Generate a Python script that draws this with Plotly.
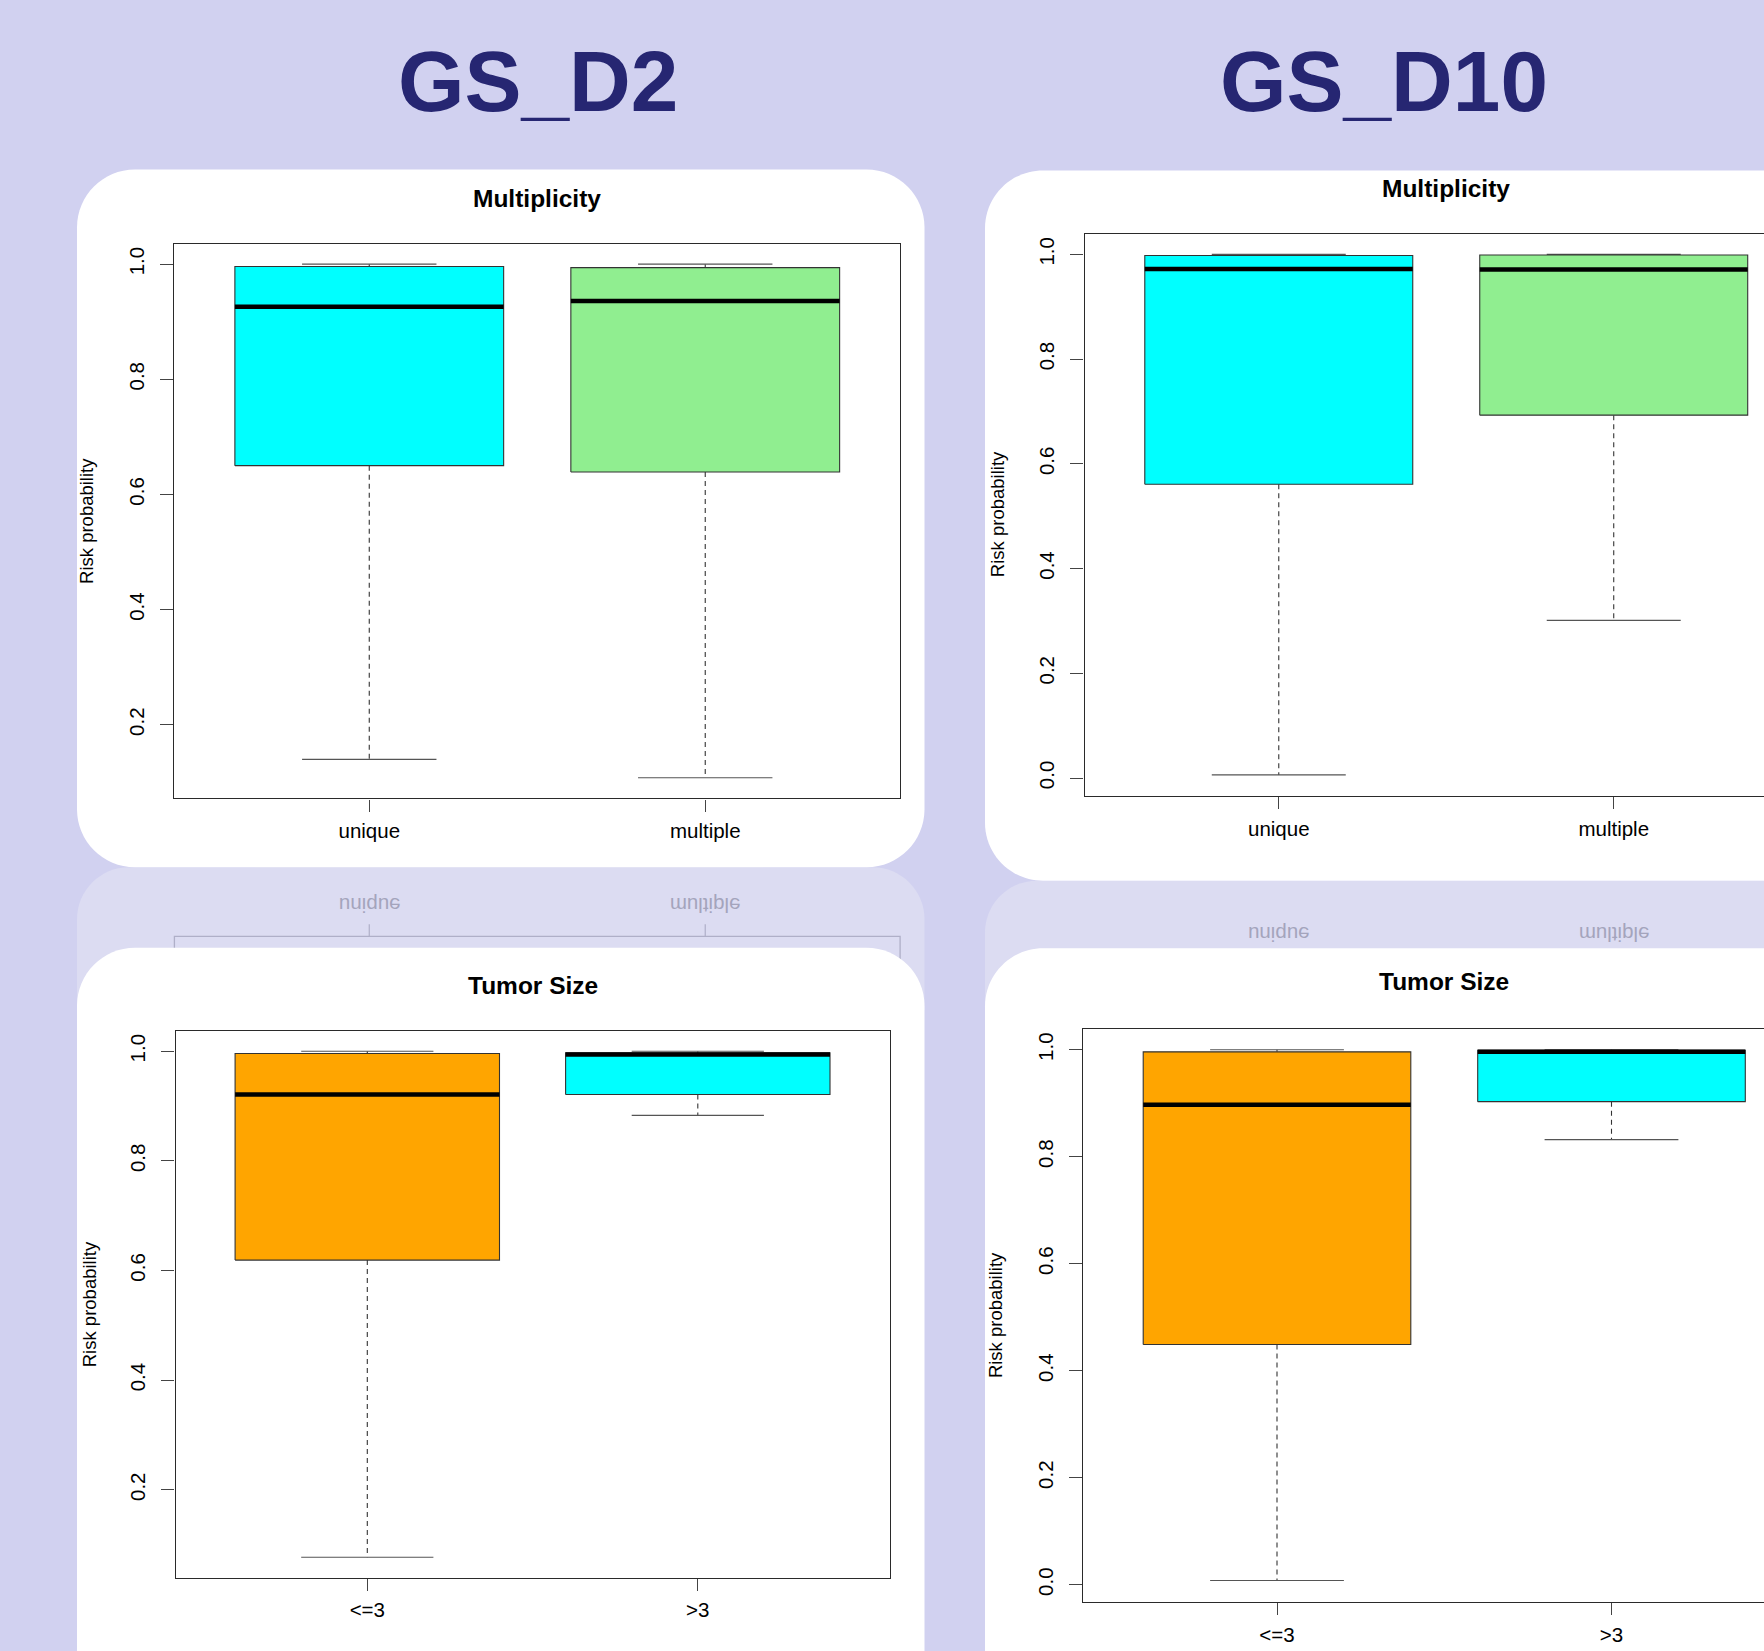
import plotly.graph_objects as go

W, H = 1764, 1651

# ---------------------------------------------------------------- data
multiplicity_groups = ["unique", "multiple"]
tumor_size_groups = ["<=3", ">3"]

multiplicity_colors = ["#00FFFF", "#90EE90"]
tumor_size_colors = ["#FFA500", "#00FFFF"]

# GS_D2 - Multiplicity (lower whisker, Q1, median, Q3, upper whisker)
d2_mult_low = [0.140, 0.108]
d2_mult_q1 = [0.650, 0.639]
d2_mult_med = [0.926, 0.936]
d2_mult_q3 = [0.996, 0.994]
d2_mult_high = [1.000, 1.000]

# GS_D10 - Multiplicity
d10_mult_low = [0.006, 0.301]
d10_mult_q1 = [0.561, 0.693]
d10_mult_med = [0.972, 0.971]
d10_mult_q3 = [0.998, 0.999]
d10_mult_high = [1.000, 1.000]

# GS_D2 - Tumor Size
d2_size_low = [0.077, 0.883]
d2_size_q1 = [0.619, 0.921]
d2_size_med = [0.921, 0.994]
d2_size_q3 = [0.996, 0.997]
d2_size_high = [1.000, 1.000]

# GS_D10 - Tumor Size
d10_size_low = [0.008, 0.832]
d10_size_q1 = [0.449, 0.903]
d10_size_med = [0.897, 0.996]
d10_size_q3 = [0.996, 0.999]
d10_size_high = [1.000, 1.000]

y_tick_values = [0.0, 0.2, 0.4, 0.6, 0.8, 1.0]
y_tick_labels = ["0.0", "0.2", "0.4", "0.6", "0.8", "1.0"]

# ---------------------------------------------------------------- style
FONT = "Liberation Sans, Arial, Helvetica, sans-serif"
BG = "#D1D1F0"
CARD = "#FFFFFF"
REFLECT = "#DCDCF2"
NAVY = "#262672"
FRAME = "#2a2a2a"


def fx(px):
    return px / W


def fy(py):
    return 1 - py / H


def rounded_path(x0, y0, x1, y1, r, top=True, bottom=True):
    """SVG path (paper units) for a rectangle given in pixels, rounded corners."""
    k = 0.5523 * r
    pts = []
    rt = r if top else 0
    kt = k if top else 0
    rb = r if bottom else 0
    kb = k if bottom else 0
    p = lambda x, y: f"{fx(x):.6f},{fy(y):.6f}"
    pts.append(f"M {p(x0 + rt, y0)}")
    pts.append(f"L {p(x1 - rt, y0)}")
    if top:
        pts.append(f"C {p(x1 - rt + kt, y0)} {p(x1, y0 + rt - kt)} {p(x1, y0 + rt)}")
    pts.append(f"L {p(x1, y1 - rb)}")
    if bottom:
        pts.append(f"C {p(x1, y1 - rb + kb)} {p(x1 - rb + kb, y1)} {p(x1 - rb, y1)}")
    pts.append(f"L {p(x0 + rb, y1)}")
    if bottom:
        pts.append(f"C {p(x0 + rb - kb, y1)} {p(x0, y1 - rb + kb)} {p(x0, y1 - rb)}")
    pts.append(f"L {p(x0, y0 + rt)}")
    if top:
        pts.append(f"C {p(x0, y0 + rt - kt)} {p(x0 + rt - kt, y0)} {p(x0 + rt, y0)}")
    pts.append("Z")
    return " ".join(pts)


# panel layout: plot frame in pixels (left, top, right, bottom), card, title
panels = [
    dict(groups=multiplicity_groups, colors=multiplicity_colors, title="Multiplicity",
         low=d2_mult_low, q1=d2_mult_q1, med=d2_mult_med, q3=d2_mult_q3, high=d2_mult_high,
         frame=(174.4, 243.6, 900.1, 798.3), title_xy=(537, 198.5), ylab_x=87),
    dict(groups=multiplicity_groups, colors=multiplicity_colors, title="Multiplicity",
         low=d10_mult_low, q1=d10_mult_q1, med=d10_mult_med, q3=d10_mult_q3, high=d10_mult_high,
         frame=(1084.5, 233.6, 1808.0, 795.7), title_xy=(1446, 189), ylab_x=997.5),
    dict(groups=tumor_size_groups, colors=tumor_size_colors, title="Tumor Size",
         low=d2_size_low, q1=d2_size_q1, med=d2_size_med, q3=d2_size_q3, high=d2_size_high,
         frame=(175.6, 1031.0, 889.5, 1577.5), title_xy=(533, 985.6), ylab_x=89),
    dict(groups=tumor_size_groups, colors=tumor_size_colors, title="Tumor Size",
         low=d10_size_low, q1=d10_size_q1, med=d10_size_med, q3=d10_size_q3, high=d10_size_high,
         frame=(1083.0, 1028.5, 1805.5, 1601.7), title_xy=(1444, 981.6), ylab_x=995),
]

cards = [
    (77, 169.5, 924.5, 867.3),
    (985, 170.4, 1900, 880.7),
    (77, 947.7, 924.5, 1760),
    (985, 948.3, 1900, 1760),
]

fig = go.Figure()
shapes = []
annotations = []

# faded reflections of the upper cards
shapes.append(dict(type="path", xref="paper", yref="paper", layer="below",
                   path=rounded_path(77, 867.3, 924.5, 1010, 52, top=True, bottom=False),
                   fillcolor=REFLECT, line=dict(width=0)))
shapes.append(dict(type="path", xref="paper", yref="paper", layer="below",
                   path=rounded_path(985, 880.7, 1900, 1010, 52, top=True, bottom=False),
                   fillcolor=REFLECT, line=dict(width=0)))

X_LO, X_HI = 0.42, 2.58  # category axis limits (two boxes at 1 and 2)

for i, pn in enumerate(panels):
    n = i + 1
    xa = "x" if n == 1 else f"x{n}"
    ya = "y" if n == 1 else f"y{n}"
    left, top, right, bottom = pn["frame"]

    # clip the frame to the page; the axis range shrinks with it
    vis_right = min(right, W)
    x_hi = X_LO + (X_HI - X_LO) * (vis_right - left) / (right - left)

    lo = min(pn["low"])
    hi = max(pn["high"])
    pad = 0.04 * (hi - lo)

    axis_font = dict(family=FONT, size=20.5, color="black")
    fig.update_layout(**{
        ("xaxis" if n == 1 else f"xaxis{n}"): dict(
            domain=[fx(left), fx(vis_right)], range=[X_LO, x_hi], anchor=ya,
            tickmode="array", tickvals=[1, 2], ticktext=pn["groups"],
            ticks="outside", ticklen=12, tickwidth=1.1, tickcolor="#444",
            showline=True, linecolor=FRAME, linewidth=1.4, mirror=True,
            showgrid=False, zeroline=False, tickfont=axis_font,
            ticklabelstandoff=2, fixedrange=True),
        ("yaxis" if n == 1 else f"yaxis{n}"): dict(
            domain=[fy(bottom), fy(top)], range=[lo - pad, hi + pad], anchor=xa,
            tickmode="array", tickvals=y_tick_values, ticktext=y_tick_labels,
            tickangle=-90, ticks="outside", ticklen=13, tickwidth=1.1, tickcolor="#444",
            showline=True, linecolor=FRAME, linewidth=1.4, mirror=(vis_right == right),
            showgrid=False, zeroline=False, tickfont=axis_font,
            ticklabelstandoff=8, fixedrange=True),
    })

    half, cap = 0.4, 0.2
    for j in range(2):
        c = j + 1
        l_, a, m, b, h_ = pn["low"][j], pn["q1"][j], pn["med"][j], pn["q3"][j], pn["high"][j]
        # dashed whiskers
        fig.add_trace(go.Scatter(x=[c, c, None, c, c], y=[b, h_, None, a, l_], mode="lines",
                                 line=dict(color="#333", width=1.1, dash="5px,4px"),
                                 xaxis=xa, yaxis=ya, hoverinfo="skip", showlegend=False))
        # whisker caps
        fig.add_trace(go.Scatter(x=[c - cap, c + cap, None, c - cap, c + cap],
                                 y=[h_, h_, None, l_, l_], mode="lines",
                                 line=dict(color="#555", width=1.1),
                                 xaxis=xa, yaxis=ya, hoverinfo="skip", showlegend=False))
        # box body
        fig.add_trace(go.Scatter(x=[c - half, c + half, c + half, c - half, c - half],
                                 y=[a, a, b, b, a], mode="lines", fill="toself",
                                 fillcolor=pn["colors"][j], line=dict(color="#333", width=1.1),
                                 xaxis=xa, yaxis=ya, hoverinfo="skip", showlegend=False))
        # median
        fig.add_trace(go.Scatter(x=[c - half, c + half], y=[m, m], mode="lines",
                                 line=dict(color="black", width=4.5),
                                 xaxis=xa, yaxis=ya, hoverinfo="skip", showlegend=False))

    # panel title and y-axis label
    tx, ty = pn["title_xy"]
    annotations.append(dict(text=f"<b>{pn['title']}</b>", x=fx(tx), y=fy(ty),
                            xref="paper", yref="paper", xanchor="center", yanchor="middle",
                            showarrow=False, font=dict(family=FONT, size=24.5, color="black")))
    annotations.append(dict(text="Risk probability", x=fx(pn["ylab_x"]), y=fy((top + bottom) / 2),
                            xref="paper", yref="paper", xanchor="center", yanchor="middle",
                            textangle=-90, showarrow=False,
                            font=dict(family=FONT, size=18.5, color="black")))

# white cards
for (x0, y0, x1, y1) in cards:
    shapes.append(dict(type="path", xref="paper", yref="paper", layer="below",
                       path=rounded_path(x0, y0, x1, y1, 58),
                       fillcolor=CARD, line=dict(width=0)))

# mirrored frame edge of the first panel inside its reflection
l0, t0, r0, b0 = panels[0]["frame"]
mirror_y = 2 * 867.3 - b0
shapes.insert(2, dict(type="path", xref="paper", yref="paper", layer="below",
                      path=f"M {fx(l0)},{fy(1000)} L {fx(l0)},{fy(mirror_y)} "
                           f"L {fx(r0)},{fy(mirror_y)} L {fx(r0)},{fy(1000)}",
                      line=dict(color="#AFAFC8", width=1.3)))
unit0 = (r0 - l0) / (X_HI - X_LO)
for c in (1, 2):
    xc = l0 + (c - X_LO) * unit0
    shapes.insert(3, dict(type="line", xref="paper", yref="paper", layer="below",
                          x0=fx(xc), x1=fx(xc), y0=fy(mirror_y), y1=fy(mirror_y - 12),
                          line=dict(color="#AFAFC8", width=1.2)))

# mirrored category labels (horizontally flipped glyphs turned half a revolution)
mirrored = {"unique": "\u0258upinu", "multiple": "\u0258lqitlum"}
for pi, edge in ((0, 867.3), (1, 880.7)):
    l_, t_, r_, b_ = panels[pi]["frame"]
    unit = (r_ - l_) / (X_HI - X_LO)
    for c, g in zip((1, 2), panels[pi]["groups"]):
        xc = l_ + (c - X_LO) * unit
        yc = 2 * edge - (b_ + 33.4) + 2
        annotations.append(dict(text=mirrored[g], x=fx(xc), y=fy(yc), xref="paper", yref="paper",
                                xanchor="center", yanchor="middle", textangle=180,
                                showarrow=False,
                                font=dict(family=FONT, size=20.5, color="#A4A4BC")))

# dataset headings
for text, cx in (("GS_D2", 538), ("GS_D10", 1384)):
    annotations.append(dict(text=f"<b>{text}</b>", x=fx(cx), y=fy(82), xref="paper", yref="paper",
                            xanchor="center", yanchor="middle", showarrow=False,
                            font=dict(family=FONT, size=85.5, color=NAVY)))

fig.update_layout(width=W, height=H, margin=dict(l=0, r=0, t=0, b=0),
                  paper_bgcolor=BG, plot_bgcolor="rgba(0,0,0,0)",
                  shapes=shapes, annotations=annotations, showlegend=False)

fig.write_html("out.html")
